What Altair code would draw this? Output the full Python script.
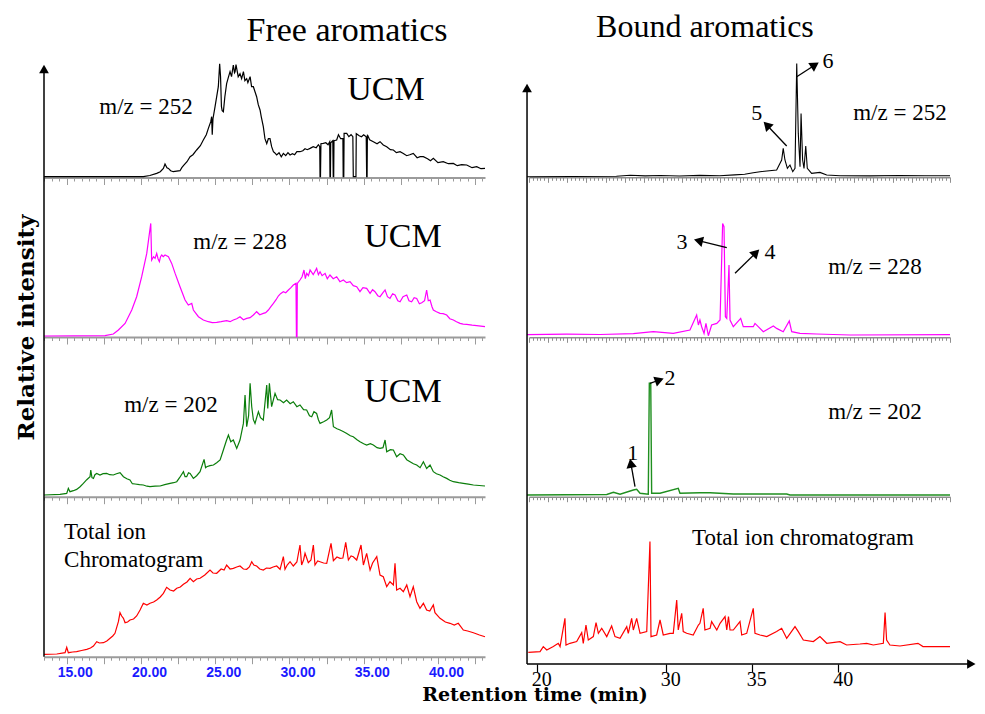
import altair as alt
import pandas as pd

# ---------------- data (retention time [min], relative intensity [a.u.]) ----------------
# Free aromatics (left column)
L252 = [(13.47,0),(20.16,0),(20.6,1.2),(21.06,3.3),(21.3,5),(21.51,8.3),(21.62,12.7),(21.75,9),(21.85,8.3),(22.0,6),
        (22.18,5),(22.4,5.5),(22.63,6),(22.75,9),(22.86,11),(23.1,15),(23.31,20),(23.5,22),(23.75,26.7),(24.0,31),
        (24.2,36.7),(24.4,42),(24.54,48.3),(24.7,55),(24.76,60),(24.8,42),(24.85,58),(24.99,70),(25.1,80),(25.21,90),
        (25.3,113),(25.36,100),(25.42,70),(25.47,66),(25.55,65),(25.65,80),(25.77,93),(25.9,100),(26.0,105),(26.1,100),
        (26.22,111.7),(26.3,104),(26.34,105),(26.4,112),(26.45,108),(26.55,100),(26.67,103),(26.78,98),(26.9,105),(27.0,96),
        (27.12,98),(27.2,94),(27.35,100),(27.45,90),(27.57,90),(27.68,85),(27.79,80),(27.9,72),(28.02,66.7),(28.1,60),
        (28.24,50),(28.35,38),(28.47,33),(28.58,38),(28.69,38),(28.8,30),(28.92,25),(29.0,24),(29.14,21.7),(29.3,24),
        (29.45,20),(29.59,23.3),(29.75,21),(29.9,24),(30.04,21.7),(30.2,23),(30.35,22),(30.5,25),(30.71,25),(30.9,26),
        (31.05,28),(31.2,27),(31.39,28.3),(31.6,30),(31.8,29),(31.95,32),(32.04,30),(32.06,0),(32.09,0),(32.12,33),
        (32.28,33.3),(32.45,34),(32.6,32),(32.71,35),(32.73,0),(32.76,0),(32.78,34),(32.92,36),(32.95,0),(32.98,0),
        (33.0,36),(33.18,36.7),(33.3,42),(33.45,38),(33.6,38.3),(33.62,0),(33.66,0),(33.68,43.3),(33.86,43.3),(34.0,40),
        (34.15,42),(34.27,40),(34.3,0),(34.48,0),(34.5,43),(34.7,41),(34.85,40),(35.0,42),(35.17,40),(35.2,0),
        (35.23,0),(35.25,42),(35.4,37),(35.65,35),(35.9,33),(36.1,35),(36.32,31.7),(36.55,30),(36.8,27),(37.0,26.7),
        (37.2,24),(37.45,25),(37.67,23.3),(37.9,21),(38.1,22),(38.34,23.3),(38.6,19),(38.8,20),(39.02,20),(39.3,18),
        (39.5,16),(39.69,18.3),(40.0,14),(40.36,15),(40.7,13),(41.04,13.3),(41.3,11),(41.6,12),(41.94,11.7),(42.3,9),
        (42.61,10),(42.9,8),(43.17,8.3)]

L228 = [(13.47,0.7),(17.58,1),(18.14,2.7),(18.48,6.7),(18.93,13.3),(19.38,26.7),(19.71,40),(20.05,60),(20.39,83.3),(20.54,100),
        (20.66,113.3),(20.72,76.7),(20.85,80),(20.95,78.3),(21.06,83.3),(21.15,78),(21.24,75),(21.32,80),(21.4,81.7),(21.5,80),
        (21.62,81.7),(21.85,80),(22.07,73.3),(22.3,63.3),(22.63,50),(22.97,36.7),(23.19,31.7),(23.42,33.3),(23.53,26.7),(23.87,20),
        (24.2,16.7),(24.54,15),(24.8,14),(25.1,14.3),(25.4,15),(25.77,16),(26.0,15),(26.22,16.7),(26.45,18),(26.67,20),
        (26.9,17),(27.12,18.3),(27.35,19),(27.57,21.7),(27.79,25),(28.0,22),(28.24,23.3),(28.4,24),(28.58,26.7),(28.75,30),
        (28.92,33.3),(29.1,37),(29.25,40.7),(29.4,43),(29.59,45),(29.75,44),(29.93,46.7),(30.1,49),(30.26,51.7),(30.44,53.3),
        (30.47,0),(30.51,0),(30.53,53.3),(30.71,56.7),(30.85,60),(30.98,66.7),(31.07,58),(31.16,63.3),(31.28,61),(31.39,66.7),
        (31.6,62),(31.83,68.3),(31.95,62),(32.06,65),(32.2,61),(32.4,63.3),(32.55,58),(32.73,61.7),(32.95,58),(33.18,60),
        (33.4,55),(33.63,56.7),(33.85,54),(34.08,55),(34.3,51),(34.53,50),(34.75,45),(34.95,49),(35.2,48.3),(35.43,43.3),
        (35.6,47),(35.76,45),(35.95,41),(36.1,40),(36.3,44),(36.44,46.7),(36.6,40),(36.77,38.3),(36.95,43),(37.11,41.7),
        (37.3,36),(37.45,35),(37.65,40),(37.9,41.7),(38.05,36),(38.23,35),(38.4,39),(38.57,38.3),(38.75,33),(38.91,34),
        (39.1,36),(39.24,46.7),(39.35,36),(39.47,36.7),(39.6,30),(39.69,26.7),(39.9,25),(40.14,23.3),(40.35,23),(40.59,21.7),
        (40.8,18),(41.04,16.7),(41.25,15),(41.49,13.3),(41.7,12.5),(41.94,12.3),(42.3,11.5),(42.61,11),(43.17,10)]

L202 = [(13.47,0.7),(14.55,1.3),(15.0,2.3),(15.11,7.3),(15.22,4),(15.45,5),(15.67,6.3),(15.9,9),(16.12,12.3),(16.35,16),
        (16.57,19),(16.62,25.7),(16.7,18),(16.8,17.3),(16.9,21),(17.02,22.3),(17.24,20.7),(17.45,22),(17.69,22.3),(17.9,21),
        (18.14,20.7),(18.35,22),(18.59,23),(18.82,19),(19.05,17),(19.26,15.7),(19.42,12),(19.6,11.7),(19.9,11),(20.16,10.7),
        (20.4,9.5),(20.61,9),(20.95,9.5),(21.29,9.7),(21.6,11),(21.96,12.3),(22.2,13),(22.41,14),(22.6,18),(22.86,24),
        (22.97,19),(23.08,19),(23.2,23),(23.31,22.3),(23.53,17.3),(23.75,20),(23.98,24),(24.25,36.3),(24.35,28),(24.43,29),
        (24.65,30),(24.88,30.7),(25.1,33),(25.33,35.7),(25.55,45.7),(25.75,55),(25.89,60.7),(26.05,54),(26.22,55.7),(26.45,47.3),
        (26.67,55.7),(26.9,72.3),(27.01,100.7),(27.12,69),(27.25,80),(27.35,112.3),(27.46,89),(27.57,76),(27.68,72.3),(27.91,84),
        (28.05,78),(28.24,75.7),(28.47,110.7),(28.54,87.3),(28.65,112.3),(28.8,89),(29.03,102.3),(29.2,96),(29.37,95.7),(29.6,93),
        (29.81,95.7),(30.05,92),(30.26,94),(30.5,89),(30.71,90.7),(30.95,86),(31.16,85.7),(31.35,80),(31.5,79),(31.65,84),
        (31.83,82.3),(31.95,76),(32.06,72.3),(32.3,74),(32.51,75.7),(32.7,78),(32.84,85.7),(32.96,69),(33.2,67),(33.41,65.7),
        (33.65,64),(33.86,62.3),(34.1,60),(34.3,59),(34.55,56),(34.75,54),(35.0,52),(35.2,50.7),(35.45,52),(35.65,50.7),
        (35.9,48),(36.1,47.3),(36.3,48),(36.44,55.7),(36.55,44),(36.8,46),(37.0,45.7),(37.22,39),(37.45,42),(37.67,40.7),
        (37.9,36),(38.12,34),(38.35,32),(38.57,30.7),(38.8,28),(39.02,34),(39.24,27.3),(39.47,30.7),(39.69,24),(39.9,22),
        (40.14,20.7),(40.35,19),(40.59,17.3),(40.8,15.5),(41.04,14),(41.4,13),(41.71,12.3),(42.05,11.5),(42.39,10.7),(43.17,9.7)]

LTIC = [(13.47,0.7),(14.33,1),(14.89,2.3),(15.0,7.7),(15.11,2.3),(15.4,3),(15.67,3.3),(16.0,4.5),(16.35,5.7),(16.6,7),
        (16.8,9),(17.02,13.3),(17.2,12),(17.47,12.3),(17.7,14),(17.92,16.7),(18.1,19),(18.25,21.7),(18.48,33.3),(18.59,42.3),
        (18.7,39),(18.82,36.7),(18.93,32.3),(19.1,33),(19.26,35),(19.5,36),(19.71,39),(19.94,45),(20.16,51.7),(20.4,50),
        (20.61,51.7),(20.85,53),(21.06,55),(21.3,58),(21.51,61.7),(21.73,67.7),(21.96,65),(22.2,64),(22.41,66.7),(22.65,68),
        (22.86,70.7),(23.1,73),(23.31,76.7),(23.53,73.3),(23.75,76),(23.98,76.7),(24.3,80),(24.65,85),(24.85,82),(25.1,81.7),
        (25.4,86),(25.6,85),(25.77,90),(26.0,86),(26.22,86.7),(26.45,88),(26.67,89),(26.9,86),(27.12,85.7),(27.3,88),
        (27.46,93.3),(27.6,90),(27.79,89),(28.0,86),(28.24,85),(28.45,87),(28.69,86.7),(28.9,88),(29.14,89),(29.37,85.7),
        (29.59,98.3),(29.7,85.7),(29.85,90),(30.04,93.3),(30.26,89),(30.5,93),(30.71,110),(30.82,90),(30.95,95),(31.05,101.7),
        (31.27,92.3),(31.45,95),(31.61,110),(31.72,90),(31.9,94),(32.06,93.3),(32.3,92),(32.51,91.7),(32.8,111.7),(32.96,94.3),
        (33.2,98),(33.41,96.7),(33.6,97),(33.79,112.7),(33.97,95),(34.15,99),(34.3,98.3),(34.53,95),(34.82,110),(34.98,90),
        (35.2,101.7),(35.43,85),(35.6,92),(35.88,98.3),(36.1,80),(36.32,78.3),(36.55,68.3),(36.77,73.3),(37.0,70),(37.11,91.7),
        (37.22,65),(37.45,66.7),(37.67,63.3),(37.9,70),(38.12,58.3),(38.34,68.3),(38.57,53.3),(38.79,46.7),(39.02,51.7),(39.24,45),
        (39.45,44),(39.69,50),(39.8,42.3),(40.14,36.7),(40.5,33),(40.81,31.7),(41.1,30),(41.37,31.7),(41.71,25),(42.0,24),
        (42.39,22.3),(42.8,20),(43.17,18.3)]

# Bound aromatics (right column)
R252 = [(19.25,0),(26.18,0.5),(27.25,1.5),(28.41,0.8),(29.57,1.2),(30.8,0.7),(31.98,1.3),(33.14,1.0),(34.01,1.8),(34.59,2.5),
        (35.09,4),(35.48,5),(36.44,6.7),(36.73,16.7),(36.82,28.3),(36.92,16.7),(37.06,8.3),(37.21,11.7),(37.37,5),(37.5,8.3),
        (37.6,113.3),(37.69,43.3),(37.79,10),(37.85,63.3),(37.94,16.7),(38.02,8.3),(38.12,30.7),(38.21,8.3),(38.46,3.3),(38.94,4.3),
        (39.33,1.7),(40.1,1),(41.83,0.8),(43.56,1.2),(45.0,0.9),(46.45,1)]

R228 = [(19.25,1),(22.33,1.5),(24.91,1.2),(27.49,2.0),(29.04,4),(30.44,2.3),(31.41,5.7),(31.8,20.7),(31.9,10.7),(31.99,15.7),
        (32.09,9),(32.23,2.3),(32.34,12.3),(32.48,0),(32.67,10.7),(32.97,12.3),(33.16,15.7),(33.31,112.3),(33.39,109),(33.47,19),
        (33.55,17.3),(33.68,70.7),(33.74,15.7),(33.93,9),(34.36,17.3),(34.51,9),(35.09,9),(35.19,12.3),(35.67,4),(36.25,9.7),
        (36.44,7.3),(36.82,4),(37.17,14.7),(37.31,4),(37.79,2.3),(38.75,1.7),(40.68,0.7),(46.45,1)]

R202 = [(19.25,0),(25.43,0.5),(25.95,2.7),(26.46,0.8),(27.49,5),(27.75,5.7),(28.01,1.7),(28.65,0.7),(28.73,111.7),(28.84,111.7),
        (28.91,1.7),(29.56,1.7),(30.73,6.7),(30.83,1.7),(31.99,2.3),(32.58,2.3),(33.93,1),(37.02,1),(37.21,0),(46.45,0)]

RTIC = [(19.35,11),(20.26,11.7),(20.51,16.7),(20.78,13.3),(21.29,16.7),(21.67,20),(21.81,16.7),(22.19,45),(22.27,18.3),(22.58,20),
        (23.1,21.7),(23.49,30.7),(23.61,20),(23.82,38.3),(24.0,23.3),(24.39,26.7),(24.6,40.7),(24.78,30),(25.04,35),(25.43,26.7),
        (25.81,37.3),(26.07,26.7),(26.46,25),(26.98,36.7),(27.1,30),(27.36,45),(27.49,33.3),(27.75,45),(28.01,30),(28.53,31.7),
        (28.78,121.7),(28.86,26.7),(29.3,28.3),(29.56,43.3),(29.81,28.3),(30.25,30),(30.44,30),(30.64,63.3),(30.73,33.3),(30.93,50),
        (31.02,31.7),(31.22,30),(31.6,28.3),(31.9,38.3),(31.99,40),(32.18,55),(32.28,33.3),(32.58,35),(32.67,41.7),(32.97,33.3),
        (33.16,40),(33.45,46.7),(33.55,33.3),(33.65,46.7),(33.74,33.3),(33.93,33.3),(34.32,41.7),(34.42,28.3),(34.71,30),(35.09,55),
        (35.19,30),(35.48,28.3),(35.87,26.7),(36.44,31.7),(36.73,35),(37.02,25),(37.5,36.7),(37.69,31.7),(37.98,23.3),(38.56,21.7),
        (38.94,26.7),(39.33,20),(40.1,21.7),(40.48,18.3),(41.25,19.3),(41.64,20),(42.02,18.3),(42.6,20),(42.7,50.7),(42.79,23.3),
        (42.98,18.3),(43.56,17.3),(44.6,20),(44.89,16.7),(46.45,16.7)]

LEFT_LABEL_EVERY = 5          # 15.00, 20.00, ...
RIGHT_TICK_LABELS = [20, 30, 35, 40]

# ---------------- layout helpers ----------------
W, H = 969, 698
SERIF = "Liberation Serif"
BOLD_SERIF = "DejaVu Serif"


def xl():
    return alt.Scale(domain=[13.47, 43.17], range=[36, 477], nice=False, zero=False)


def xr():  # the original figure's bound-aromatics time axis is piecewise
    return alt.Scale(domain=[20, 30, 35, 40], range=[528.7, 657.7, 743.7, 830.3], nice=False, zero=False)


def ys(base_page):
    b = base_page - 8
    return alt.Scale(domain=[0, 160], range=[b, b - 160], nice=False, zero=False)


def frame(pairs):
    return pd.DataFrame(pairs, columns=["t", "v"])


LEFT_TICKS = [13.5 + 0.5 * k for k in range(60)]
MAJOR_L = "abs(datum.value / 2.5 - round(datum.value / 2.5)) < 0.001"
LABEL_EXPR_L = ("abs(datum.value / " + str(LEFT_LABEL_EVERY) + " - round(datum.value / " + str(LEFT_LABEL_EVERY)
                + ")) < 0.001 ? format(datum.value, '.2f') : ''")


def left_axis(page_y, labels):
    kw = dict(orient="bottom", offset=page_y - 8 - H, values=LEFT_TICKS, title=None, grid=False,
              domainColor="#9b9b9b", domainWidth=2, tickColor="#9b9b9b", tickWidth=1,
              tickSize={"condition": {"test": MAJOR_L, "value": 7}, "value": 3.5}, labels=labels)
    if labels:
        kw.update(labelExpr=LABEL_EXPR_L,
                  labelFont="Liberation Sans", labelFontWeight="bold", labelFontSize=14,
                  labelColor="#1a1aff", labelPadding=2, labelOffset=8, labelOverlap=False, labelFlush=False)
    return alt.Axis(**kw)


def line_layer(pairs, color, xsc, ysc, width, axis):
    return alt.Chart(frame(pairs)).mark_line(color=color, strokeWidth=width).encode(
        x=alt.X("t:Q", scale=xsc, axis=axis), y=alt.Y("v:Q", scale=ysc, axis=None))


def right_tick_layer(page_y):
    df = pd.DataFrame({"i": [0, 110]})
    return alt.Chart(df).mark_point(opacity=0).encode(
        x=alt.X("i:Q", scale=alt.Scale(domain=[0, 110], range=[521, 942], nice=False, zero=False),
                axis=alt.Axis(orient="bottom", offset=page_y - 8 - H, values=list(range(111)), labels=False,
                              title=None, grid=False, domainColor="#8f8f8f", domainWidth=1.5,
                              tickColor="#8f8f8f", tickWidth=1,
                              tickSize={"condition": {"test": "datum.value % 5 == 0", "value": 5}, "value": 3})),
        y=alt.Y("i:Q", scale=alt.Scale(domain=[0, 110], range=[0, 1]), axis=None))


def text_layer(txt, t, v, xsc, ysc, size, font=SERIF, weight="normal", align="center", angle=0,
               color="black", baseline="middle"):
    df = pd.DataFrame({"t": [t], "v": [v], "label": [txt]})
    return alt.Chart(df).mark_text(font=font, fontSize=size, fontWeight=weight, align=align,
                                   baseline=baseline, angle=angle, color=color).encode(
        x=alt.X("t:Q", scale=xsc, axis=None), y=alt.Y("v:Q", scale=ysc, axis=None), text="label:N")


def arrow(t0, v0, t1, v1, ang, xsc, ysc):
    df = pd.DataFrame({"t0": [t0], "v0": [v0], "t1": [t1], "v1": [v1]})
    rule = alt.Chart(df).mark_rule(color="black", strokeWidth=1.3).encode(
        x=alt.X("t0:Q", scale=xsc, axis=None), y=alt.Y("v0:Q", scale=ysc, axis=None), x2="t1:Q", y2="v1:Q")
    head = alt.Chart(df).mark_point(shape="triangle-up", filled=True, color="black", opacity=1,
                                    size=110, angle=ang).encode(
        x=alt.X("t1:Q", scale=xsc, axis=None), y=alt.Y("v1:Q", scale=ysc, axis=None))
    return [rule, head]


# panel baselines (page pixels)
L1, L2, L3, L4 = 176.7, 336.7, 495.7, 655.0
R1, R2, R3, R4 = 176.7, 335.7, 495.0, 663.3

layers = []
# gray ticked axes of the right column
layers += [right_tick_layer(177.3), right_tick_layer(337.3), right_tick_layer(496.7)]

# left column traces
layers.append(line_layer(L252, "black", xl(), ys(L1), 1.2, left_axis(177.5, False)))
layers.append(line_layer(L228, "#ff00ff", xl(), ys(L2), 1.2, left_axis(337.0, False)))
layers.append(line_layer(L202, "#0a7d0a", xl(), ys(L3), 1.2, left_axis(496.7, False)))
layers.append(line_layer(LTIC, "#ff0000", xl(), ys(L4), 1.2, left_axis(656.7, True)))

# right column traces
layers.append(line_layer(R252, "black", xr(), ys(R1), 1.1, None))
layers.append(line_layer(R228, "#ff00ff", xr(), ys(R2), 1.2, None))
layers.append(line_layer(R202, "#1f8f1f", xr(), ys(R3), 1.4, None))
layers.append(line_layer(RTIC, "#ff0000", xr(), ys(R4), 1.2,
                         alt.Axis(orient="bottom", offset=664 - 8 - H, values=RIGHT_TICK_LABELS, title=None,
                                  grid=False, domain=False, tickColor="black", tickSize=8, tickWidth=1.2,
                                  labelFont=SERIF, labelFontSize=20, labelColor="black", labelPadding=-3,
                                  labelOffset=4.5, labelOverlap=False, labelFlush=False, format="d")))

# axis lines with arrow heads
ax_df_l = pd.DataFrame({"t": [13.47], "v0": [-1.7], "v1": [586.0]})
layers.append(alt.Chart(ax_df_l).mark_rule(color="black", strokeWidth=1.5).encode(
    x=alt.X("t:Q", scale=xl(), axis=None), y=alt.Y("v0:Q", scale=ys(L4), axis=None), y2="v1:Q"))
layers.append(alt.Chart(ax_df_l).mark_point(shape="triangle-up", filled=True, color="black", opacity=1, size=95).encode(
    x=alt.X("t:Q", scale=xl(), axis=None), y=alt.Y("v1:Q", scale=ys(L4), axis=None)))

ax_df_r = pd.DataFrame({"t": [19.25], "v0": [-0.7], "v1": [575.3], "tend": [47.68]})
layers.append(alt.Chart(ax_df_r).mark_rule(color="black", strokeWidth=1.5).encode(
    x=alt.X("t:Q", scale=xr(), axis=None), y=alt.Y("v0:Q", scale=ys(R4), axis=None), y2="v1:Q"))
layers.append(alt.Chart(ax_df_r).mark_point(shape="triangle-up", filled=True, color="black", opacity=1, size=95).encode(
    x=alt.X("t:Q", scale=xr(), axis=None), y=alt.Y("v1:Q", scale=ys(R4), axis=None)))
layers.append(alt.Chart(ax_df_r).mark_rule(color="black", strokeWidth=1.5).encode(
    x=alt.X("t:Q", scale=xr(), axis=None), x2="tend:Q", y=alt.Y("v0:Q", scale=ys(R4), axis=None)))
layers.append(alt.Chart(ax_df_r).mark_point(shape="triangle-right", filled=True, color="black", opacity=1, size=95).encode(
    x=alt.X("tend:Q", scale=xr(), axis=None), y=alt.Y("v0:Q", scale=ys(R4), axis=None)))

# texts – left column
layers += [
    text_layer("Free aromatics", 33.88, 136.0, xl(), ys(L1), 34, baseline="alphabetic"),
    text_layer("m/z = 252", 20.34, 69.5, xl(), ys(L1), 23),
    text_layer("UCM", 36.5, 86.7, xl(), ys(L1), 34),
    text_layer("m/z = 228", 26.67, 94.5, xl(), ys(L2), 23),
    text_layer("UCM", 37.65, 99.7, xl(), ys(L2), 34),
    text_layer("m/z = 202", 22.02, 90.5, xl(), ys(L3), 23),
    text_layer("UCM", 37.65, 103.5, xl(), ys(L3), 34),
    text_layer("Total ion", 14.82, 123.0, xl(), ys(L4), 23, align="left"),
    text_layer("Chromatogram", 14.82, 95.0, xl(), ys(L4), 23, align="left"),
    text_layer("Relative intensity", 12.33, 9.2, xl(), ys(L2), 23, font=BOLD_SERIF, weight="bold", angle=270),
]
# texts – right column
layers += [
    text_layer("Bound aromatics", 32.28, 139.7, xr(), ys(R1), 32, baseline="alphabetic"),
    text_layer("m/z = 252", 43.56, 63.5, xr(), ys(R1), 23),
    text_layer("6", 39.41, 115.7, xr(), ys(R1), 22),
    text_layer("5", 35.29, 63.4, xr(), ys(R1), 22),
    text_layer("3", 30.95, 93.7, xr(), ys(R2), 22),
    text_layer("4", 36.06, 83.7, xr(), ys(R2), 22),
    text_layer("m/z = 228", 42.12, 68.7, xr(), ys(R2), 23),
    text_layer("2", 30.25, 117.0, xr(), ys(R3), 22),
    text_layer("1", 27.44, 42.3, xr(), ys(R3), 22),
    text_layer("m/z = 202", 42.12, 83.0, xr(), ys(R3), 23),
    text_layer("Total ion chromatogram", 37.96, 125.5, xr(), ys(R4), 23),
    text_layer("Retention time (min)", 19.87, -37.7, xr(), ys(R4), 19, font=BOLD_SERIF, weight="bold",
               baseline="alphabetic"),
]
# peak arrows
layers += arrow(37.6, 100.0, 38.65, 111.7, 57, xr(), ys(R1))
layers += arrow(37.02, 30.7, 35.87, 51.7, 316, xr(), ys(R1))
layers += arrow(33.55, 88.0, 31.9, 95.0, 284, xr(), ys(R2))
layers += arrow(34.03, 62.4, 35.25, 83.0, 45, xr(), ys(R2))
layers += arrow(28.78, 111.7, 29.51, 115.0, 70, xr(), ys(R3))
layers += arrow(27.62, 8.3, 27.3, 31.7, 350, xr(), ys(R3))

chart = (
    alt.layer(*layers)
    .resolve_scale(x="independent", y="independent")
    .resolve_axis(x="independent", y="independent")
    .properties(width=W, height=H, autosize=alt.AutoSizeParams(type="none"), padding=0, background="white")
    .configure_view(stroke="transparent")
)

chart.save("out.html", embed_options={"renderer": "svg", "actions": False})
